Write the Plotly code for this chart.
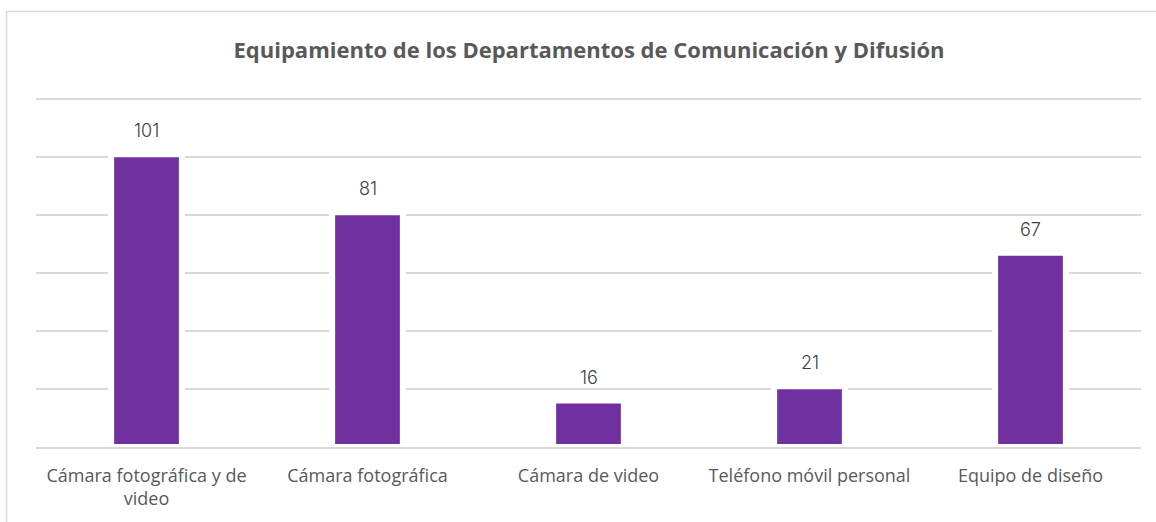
import plotly.graph_objects as go

# Equipment counts per category
categories = [
    "Cámara fotográfica y de video",
    "Cámara fotográfica",
    "Cámara de video",
    "Teléfono móvil personal",
    "Equipo de diseño",
]
tick_labels = [
    "Cámara fotográfica y de<br>video",
    "Cámara fotográfica",
    "Cámara de video",
    "Teléfono móvil personal",
    "Equipo de diseño",
]
values = [101, 81, 16, 21, 67]

W, H = 1156, 522
ML, MR, MT, MB = 36, 15, 98, 75
pw, ph = W - ML - MR, H - MT - MB

BAR = "#7030A0"
GRID = "#D9D9D9"
TXT = "#595959"

fig = go.Figure(
    go.Bar(
        x=categories,
        y=values,
        width=0.32,
        marker=dict(color=BAR, line=dict(color="white", width=6)),
        hoverinfo="skip",
    )
)

# value labels above each bar
for c, v in zip(categories, values):
    fig.add_annotation(
        x=c, y=v, text=str(v), showarrow=False,
        yanchor="bottom", yshift=11,
        font=dict(family="Inter", size=18, color="#404040", weight=300),
    )

# outer chart frame
fx0 = (6.5 - ML) / pw
fy1 = (H - MB - 11.5) / ph
fig.add_shape(
    type="rect", xref="paper", yref="paper",
    x0=fx0, x1=1.2, y0=-0.6, y1=fy1,
    line=dict(color=GRID, width=1.5), fillcolor="rgba(0,0,0,0)",
)

fig.update_layout(
    width=W, height=H,
    margin=dict(l=ML, r=MR, t=MT, b=MB),
    paper_bgcolor="white", plot_bgcolor="white",
    showlegend=False,
    title=dict(
        text="<b>Equipamiento de los Departamentos de Comunicación y Difusión</b>",
        x=589 / W, xanchor="center",
        y=1 - 50 / H, yanchor="middle",
        font=dict(family="Open Sans", size=22, color=TXT),
    ),
)
fig.update_xaxes(
    tickvals=categories, ticktext=tick_labels,
    tickfont=dict(family="Open Sans", size=18, color=TXT),
    ticklabelstandoff=11,
    showline=True, linecolor=GRID, linewidth=2,
    ticks="", showgrid=False,
)
fig.update_yaxes(
    range=[0, 120.4], tickvals=[20, 40, 60, 80, 100, 120],
    showgrid=True, gridcolor=GRID, gridwidth=2,
    showticklabels=False, zeroline=False,
)

fig.write_html("out.html")
